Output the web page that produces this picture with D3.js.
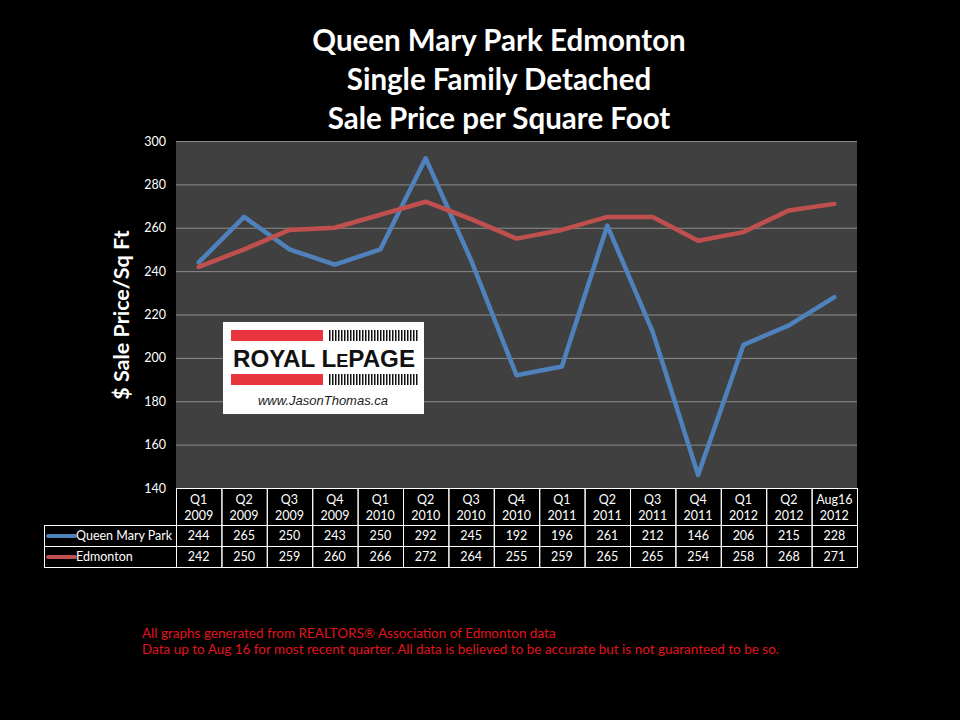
<!DOCTYPE html>
<html>
<head>
<meta charset="utf-8">
<script src="https://cdn.jsdelivr.net/npm/d3@7"></script>
<style>
  body { margin: 0; background: #000; }
  svg { display: block; }
</style>
</head>
<body>
<svg id="chart" width="960" height="720"></svg>
<script>
var quarters = ["Q1", "Q2", "Q3", "Q4", "Q1", "Q2", "Q3", "Q4", "Q1", "Q2", "Q3", "Q4", "Q1", "Q2", "Aug16"];
var years = ["2009", "2009", "2009", "2009", "2010", "2010", "2010", "2010", "2011", "2011", "2011", "2011", "2012", "2012", "2012"];
var queenMary = [244, 265, 250, 243, 250, 292, 245, 192, 196, 261, 212, 146, 206, 215, 228];
var edmonton = [242, 250, 259, 260, 266, 272, 264, 255, 259, 265, 265, 254, 258, 268, 271];
var yTicks = [140, 160, 180, 200, 220, 240, 260, 280, 300];
var seriesNames = ["Queen Mary Park", "Edmonton"];
var seriesColors = ["#4f81bd", "#c0504d"];

var svg = d3.select("#chart");
var plotLeft = 176, plotRight = 857, plotTop = 141, plotBottom = 488;
var font = "Lato, 'Open Sans', sans-serif";

var x = d3.scaleBand().domain(d3.range(quarters.length)).range([plotLeft, plotRight]);
var y = d3.scaleLinear().domain([140, 300]).range([plotBottom, plotTop]);

// titles
var titles = ["Queen Mary Park Edmonton", "Single Family Detached", "Sale Price per Square Foot"];
svg.selectAll("text.title").data(titles).enter().append("text")
    .attr("class", "title")
    .attr("x", 499)
    .attr("y", function(d, i) { return 51 + i * 39; })
    .attr("text-anchor", "middle")
    .attr("fill", "#fff")
    .style("font-family", font)
    .style("font-weight", "bold")
    .style("font-size", "29.5px")
    .text(function(d) { return d; });

// plot background
svg.append("rect")
    .attr("x", plotLeft).attr("y", plotTop)
    .attr("width", plotRight - plotLeft).attr("height", plotBottom - plotTop)
    .attr("fill", "#404040");

// grid + y axis
svg.append("g")
    .selectAll("line").data(yTicks).enter().append("line")
    .attr("x1", plotLeft).attr("x2", plotRight)
    .attr("y1", function(d) { return y(d) + 0.5; })
    .attr("y2", function(d) { return y(d) + 0.5; })
    .attr("stroke", "#8c8c8c")
    .attr("stroke-width", 1);

var yAxis = svg.append("g")
    .attr("transform", "translate(" + plotLeft + ",0)")
    .call(d3.axisLeft(y).tickValues(yTicks).tickSize(0).tickPadding(10));
yAxis.select(".domain").remove();
yAxis.selectAll("text")
    .attr("fill", "#fff")
    .style("font-family", font)
    .style("font-size", "12.5px");

svg.append("text")
    .attr("transform", "translate(129,315) rotate(-90)")
    .attr("text-anchor", "middle")
    .attr("fill", "#fff")
    .style("font-family", font)
    .style("font-weight", "bold")
    .style("font-size", "21.5px")
    .text("$ Sale Price/Sq Ft");

// logo
var logo = svg.append("g").attr("transform", "translate(223,322)");
logo.append("rect").attr("width", 201).attr("height", 92).attr("fill", "#fff");
logo.append("rect").attr("x", 8).attr("y", 8).attr("width", 92).attr("height", 11).attr("fill", "#e8343c");
logo.append("rect").attr("x", 8).attr("y", 52).attr("width", 92).attr("height", 11).attr("fill", "#e8343c");
var stripes = d3.range(30);
[8, 52].forEach(function(yy) {
    logo.selectAll(null).data(stripes).enter().append("rect")
        .attr("x", function(d) { return 106 + d * 3; })
        .attr("y", yy)
        .attr("width", 1.5)
        .attr("height", 11)
        .attr("fill", "#111");
});
var brand = logo.append("text")
    .attr("x", 10).attr("y", 45)
    .attr("fill", "#111")
    .style("font-family", "'Liberation Sans', Arial, sans-serif")
    .style("font-weight", "bold")
    .style("font-size", "24px")
    .attr("textLength", 182)
    .attr("lengthAdjust", "spacingAndGlyphs");
brand.append("tspan").text("ROYAL L");
brand.append("tspan").style("font-size", "18px").text("E");
brand.append("tspan").text("PAGE");
logo.append("text")
    .attr("x", 100).attr("y", 83)
    .attr("text-anchor", "middle")
    .attr("fill", "#222")
    .style("font-family", "'Liberation Sans', Arial, sans-serif")
    .style("font-style", "italic")
    .style("font-size", "13px")
    .text("www.JasonThomas.ca");

// lines
var line = d3.line()
    .x(function(d, i) { return x(i) + x.bandwidth() / 2; })
    .y(function(d) { return y(d); });

[queenMary, edmonton].forEach(function(vals, k) {
    svg.append("path")
        .datum(vals)
        .attr("d", line)
        .attr("fill", "none")
        .attr("stroke", seriesColors[k])
        .attr("stroke-width", 4.5)
        .attr("stroke-linejoin", "round")
        .attr("stroke-linecap", "round");
});

// data table
var tbl = svg.append("g").attr("class", "table");
var headTop = plotBottom, headBot = 525, rowH = 21;
var labelLeft = 44;
var cellStyle = function(sel) {
    sel.attr("fill", "none").attr("stroke", "#fff").attr("stroke-width", 1);
};

tbl.selectAll("rect.head").data(quarters).enter().append("rect")
    .attr("class", "head")
    .attr("x", function(d, i) { return x(i) + 0.5; })
    .attr("y", headTop + 0.5)
    .attr("width", x.bandwidth())
    .attr("height", headBot - headTop)
    .call(cellStyle);

tbl.selectAll("text.q").data(quarters).enter().append("text")
    .attr("x", function(d, i) { return x(i) + x.bandwidth() / 2; })
    .attr("y", headTop + 16)
    .attr("text-anchor", "middle")
    .attr("fill", "#fff")
    .style("font-family", font)
    .style("font-size", "12.5px")
    .text(function(d) { return d; });

tbl.selectAll("text.yr").data(years).enter().append("text")
    .attr("x", function(d, i) { return x(i) + x.bandwidth() / 2; })
    .attr("y", headTop + 32)
    .attr("text-anchor", "middle")
    .attr("fill", "#fff")
    .style("font-family", font)
    .style("font-size", "12.5px")
    .text(function(d) { return d; });

[queenMary, edmonton].forEach(function(vals, k) {
    var rowTop = headBot + k * rowH;
    var row = tbl.append("g");
    row.append("rect")
        .attr("x", labelLeft + 0.5).attr("y", rowTop + 0.5)
        .attr("width", plotLeft - labelLeft).attr("height", rowH)
        .call(cellStyle);
    row.append("line")
        .attr("x1", labelLeft + 4).attr("x2", labelLeft + 31)
        .attr("y1", rowTop + rowH / 2 + 0.5).attr("y2", rowTop + rowH / 2 + 0.5)
        .attr("stroke", seriesColors[k])
        .attr("stroke-width", 4)
        .attr("stroke-linecap", "round");
    row.append("text")
        .attr("x", labelLeft + 32).attr("y", rowTop + 15)
        .attr("fill", "#fff")
        .style("font-family", font)
        .style("font-size", "12.5px")
        .text(seriesNames[k]);
    row.selectAll("rect.v").data(vals).enter().append("rect")
        .attr("class", "v")
        .attr("x", function(d, i) { return x(i) + 0.5; })
        .attr("y", rowTop + 0.5)
        .attr("width", x.bandwidth())
        .attr("height", rowH)
        .call(cellStyle);
    row.selectAll("text.v").data(vals).enter().append("text")
        .attr("x", function(d, i) { return x(i) + x.bandwidth() / 2; })
        .attr("y", rowTop + 15)
        .attr("text-anchor", "middle")
        .attr("fill", "#fff")
        .style("font-family", font)
        .style("font-size", "12.5px")
        .text(function(d) { return d; });
});

// footer notes
var notes = [
    "All graphs generated from REALTORS\u00ae Association of Edmonton data",
    "Data up to Aug 16  for most recent quarter. All data is believed to be accurate but is not guaranteed to be so."
];
svg.selectAll("text.note").data(notes).enter().append("text")
    .attr("class", "note")
    .attr("x", 142)
    .attr("y", function(d, i) { return 638 + i * 16; })
    .attr("fill", "#e0141e")
    .style("font-family", font)
    .style("font-size", "13.5px")
    .text(function(d) { return d; });
</script>
</body>
</html>
